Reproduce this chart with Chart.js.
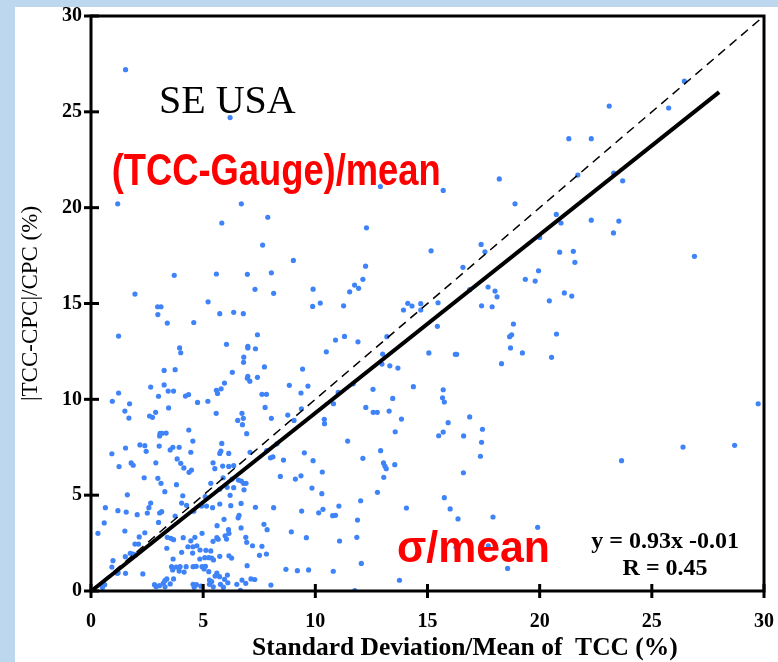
<!DOCTYPE html>
<html>
<head>
<meta charset="utf-8">
<script src="https://cdn.jsdelivr.net/npm/chart.js@4"></script>
<style>
body { margin: 0; background: #bdd7ee; width: 778px; height: 662px; overflow: hidden; }
#wrap { position: absolute; left: 15px; top: 7px; width: 763px; height: 655px; background: #fff; }
</style>
</head>
<body>
<div id="wrap"><canvas id="chart_scatter" width="763" height="655"></canvas></div>
<script>
// scatter points: sigma/mean of TCC (%) vs |TCC-CPC|/CPC (%)
const sigmaMean = [
  1.54, 6.2, 1.19, 6.7, 12.9, 15.7, 18.2, 18.9, 26.45, 23.1, 25.75, 21.3, 22.3, 21.7, 23.3, 23.7,
  5.83, 7.88, 7.65, 9.02, 3.71, 5.59, 6.97, 8.04, 1.96, 7.31, 8.14, 9.9, 9.88, 2.97, 3.12, 2.98,
  3.4, 4.58, 5.22, 5.74, 6.36, 6.79, 1.23, 7.42, 3.95, 4.0, 6.04, 6.99, 6.99, 7.33, 6.81, 6.8,
  7.73, 3.26, 3.75, 6.3, 9.43, 6.99, 6.97, 7.08, 7.42, 5.95, 2.66, 3.26, 3.01, 3.44, 3.68, 4.21,
  4.35, 4.75, 5.21, 5.59, 5.64, 5.8, 1.23, 0.95, 1.72, 7.62, 7.82, 8.84, 9.36, 9.67,
  12.28, 15.16, 17.39, 17.56, 16.58, 12.24, 12.12, 11.75, 11.93, 11.53, 10.22, 11.26, 16.88, 17.7,
  18.01, 18.1, 17.41, 17.88, 19.36, 19.8, 19.95, 14.12, 14.31, 14.7, 13.93, 14.7, 15.47, 15.44,
  18.83, 18.75, 18.66, 18.7, 19.23, 18.3, 10.9, 11.3, 11.9, 13.19, 10.49, 13.0, 12.97, 13.32,
  13.68, 15.06, 16.24, 16.3, 11.69, 11.02, 10.81, 12.57, 13.45, 14.37, 15.7, 15.67, 15.75,
  20.74, 20.95, 22.3, 23.53, 23.29, 20.0, 20.89, 21.5, 21.57, 26.9, 21.1, 21.43, 20.43, 20.75,
  20.53, 29.74,
  3.46, 1.51, 1.69, 2.61, 2.74, 2.88, 5.58, 6.73, 6.79, 6.54, 6.75, 7.76, 8.04, 8.77, 9.05, 9.38,
  4.36, 6.94, 3.08, 3.17, 3.35, 3.06, 2.18, 2.4, 1.54, 2.46, 3.04, 3.53, 3.65, 3.93, 4.45, 4.54,
  5.83, 5.74, 5.79, 6.14, 7.09, 7.83, 0.93, 1.79, 1.88, 1.25, 2.89, 3.84, 4.0, 4.14, 4.48, 4.37,
  5.44, 5.52, 5.87, 6.14, 6.36, 5.89, 6.29, 6.57, 6.7, 6.91, 6.8, 6.36, 6.07, 8.0, 8.11, 8.58,
  8.29, 9.51, 9.9, 8.44, 9.11, 9.36, 9.85, 2.37, 2.98, 3.12, 3.29, 3.81, 1.62, 4.09, 5.34, 5.09,
  5.74, 6.2, 6.82, 2.66, 2.58, 0.64, 1.2, 1.57, 2.06, 2.51, 3.06, 3.15, 4.04, 4.26, 4.58, 4.93,
  5.15, 5.42, 5.74, 6.23, 6.69, 7.33, 8.14, 9.39, 3.75, 0.59, 0.31, 1.51, 3.01, 2.4, 2.15, 1.96,
  2.12, 1.75, 1.87, 1.99, 1.53, 0.98, 0.93, 1.17, 1.21, 1.54, 0.61, 2.31, 2.83, 3.22, 3.29, 3.38,
  3.53, 3.68, 3.4, 3.56, 3.68, 3.38, 3.66, 3.59, 3.64, 3.8, 3.93, 3.97, 4.15, 4.24, 4.04, 4.11,
  4.45, 4.32, 4.54, 4.72, 4.53, 4.63, 4.95, 4.86, 5.12, 5.34, 4.85, 5.07, 5.25, 5.38, 5.46, 5.74,
  6.15, 6.27, 4.55, 4.69, 4.95, 5.1, 5.04, 5.25, 5.61, 5.53, 5.73, 6.08, 5.95, 6.1, 5.77, 5.28,
  5.38, 5.28, 4.55, 4.7, 5.44, 5.61, 5.67, 5.98, 6.04, 6.13, 5.62, 5.93, 6.56, 6.6, 6.15, 6.9,
  6.94, 6.69, 7.2, 6.96, 6.73, 7.13, 6.66, 7.62, 7.51, 7.82, 7.71, 7.85, 8.93, 9.6, 8.02, 8.69,
  9.2, 9.7,
  10.4, 10.41, 12.25, 12.58, 12.76, 13.29, 13.84, 13.56, 16.88, 15.92, 15.7, 15.5, 16.61, 17.45,
  17.41, 17.36, 11.44, 12.91, 12.12, 13.04, 13.1, 13.16, 13.54, 13.05, 10.31, 16.6, 10.29, 12.77,
  12.02, 11.05, 10.34, 10.15, 10.77, 10.9, 11.88, 14.06, 15.75, 16.01, 16.36, 17.92, 19.91, 11.85,
  11.08, 12.05, 10.8, 13.75, 18.57, 16.27, 17.71, 11.76,
  23.65, 26.39, 28.69,
  0.51, 2.9, 3.05, 3.3, 4.6, 4.9, 5.45, 5.9, 6.9, 7.3, 6.5
];
const diffPct = [
  27.2, 24.7, 20.2, 20.2, 21.1, 20.9, 21.5, 20.2, 26.6, 25.3, 25.2, 23.6, 23.6, 21.7, 21.8, 21.4,
  19.2, 19.5, 18.05, 17.25, 16.47, 16.54, 16.52, 16.6, 15.49, 15.74, 15.53, 15.75, 14.85, 14.83, 14.83, 14.42,
  13.98, 14.01, 15.09, 14.47, 14.54, 14.47, 13.3, 13.37, 12.68, 12.43, 12.87, 12.76, 12.68, 12.64, 12.2, 11.93,
  11.69, 11.51, 11.55, 11.41, 11.58, 11.2, 11.1, 10.95, 11.15, 10.85, 10.64, 10.75, 10.16, 10.43, 10.43, 10.17,
  10.25, 9.84, 9.9, 10.47, 10.31, 10.55, 10.33, 9.9, 9.77, 10.26, 10.26, 10.73, 10.33, 10.69,
  18.95, 17.75, 18.08, 17.7, 16.89, 16.95, 16.26, 15.96, 15.79, 15.61, 15.02, 14.88, 15.72, 15.86,
  15.65, 15.35, 14.88, 14.83, 16.26, 16.17, 16.71, 15.01, 14.87, 14.99, 14.66, 14.66, 15.04, 13.81,
  13.93, 13.37, 13.27, 12.68, 12.42, 11.86, 13.09, 13.28, 13.0, 13.27, 12.48, 12.36, 11.84, 11.75,
  11.63, 12.42, 12.35, 12.35, 10.81, 10.36, 9.77, 10.52, 10.05, 10.66, 10.5, 10.08, 9.86,
  19.65, 19.2, 19.35, 19.3, 18.68, 18.45, 17.68, 17.72, 17.15, 17.46, 15.55, 15.39, 15.14, 13.41,
  12.19, 9.77,
  9.55, 9.39, 9.02, 9.13, 9.06, 9.32, 9.27, 9.27, 9.01, 8.9, 8.68, 9.58, 9.01, 9.18, 8.9, 9.51,
  8.4, 8.21, 8.23, 8.23, 8.24, 8.09, 7.62, 7.58, 7.46, 7.29, 7.56, 7.36, 7.5, 7.5, 7.24, 7.82,
  7.7, 7.18, 7.3, 7.18, 7.24, 7.32, 7.16, 6.68, 6.56, 6.49, 6.69, 6.89, 6.66, 6.42, 6.31, 6.19,
  6.69, 6.38, 6.52, 6.5, 6.54, 5.91, 5.84, 5.79, 5.74, 5.62, 5.62, 5.39, 5.41, 6.95, 7.0, 6.83,
  7.68, 7.21, 6.8, 5.98, 5.84, 6.01, 5.37, 5.91, 5.88, 5.62, 5.18, 5.55, 5.02, 4.97, 5.62, 4.92,
  5.31, 4.99, 5.28, 4.59, 4.35, 4.35, 4.19, 4.12, 3.98, 4.07, 4.07, 4.14, 4.59, 4.47, 4.16, 4.43,
  4.43, 4.35, 4.54, 4.45, 4.57, 4.37, 4.35, 4.17, 3.91, 3.55, 3.01, 3.13, 3.58, 3.04, 2.82, 2.45,
  2.45, 1.97, 1.93, 1.88, 1.79, 1.58, 1.25, 0.92, 0.95, 0.92, 0.33, 0.89, 0.33, 0.4, 0.54, 0.63,
  0.37, 0.63, 2.8, 2.75, 2.68, 2.23, 1.67, 1.27, 1.1, 1.25, 1.04, 1.27, 0.99, 1.27, 2.02, 2.78,
  2.62, 2.31, 2.31, 2.36, 1.98, 2.8, 3.01, 2.14, 2.12, 2.09, 1.67, 1.74, 1.74, 1.72, 1.62, 1.81,
  1.84, 1.72, 1.27, 1.29, 1.27, 1.29, 1.15, 1.01, 0.94, 0.78, 0.75, 0.83, 0.61, 0.43, 0.35, 0.57,
  0.49, 0.35, 0.35, 0.33, 2.59, 2.78, 2.7, 2.88, 2.71, 3.2, 3.41, 3.74, 3.82, 3.95, 3.01, 2.8,
  2.54, 3.29, 2.36, 1.32, 0.57, 0.63, 0.04, 2.33, 1.86, 1.93, 3.48, 3.2, 3.09, 2.78, 0.31, 1.13,
  1.06, 1.1,
  8.96, 8.73, 9.58, 9.32, 9.32, 9.39, 8.97, 8.31, 9.08, 8.78, 8.29, 8.1, 8.09, 8.44,
  7.76, 7.03, 7.82, 7.32, 6.92, 6.68, 6.52, 6.38, 6.59, 5.93, 6.21, 6.17, 5.08, 5.15,
  4.71, 4.43, 4.26, 4.08, 3.93, 3.95, 3.7, 4.33, 4.87, 4.28, 3.76, 3.86, 3.32, 2.8,
  2.61, 1.44, 1.03, 0.56, 1.18, 2.28, 2.36, 0.02,
  6.8, 7.51, 7.6,
  0.18, 0.22, 0.28, 0.22, 0.2, 0.25, 0.22, 0.2, 0.4, 0.6, 0.35
];

// regression line and 1:1 line
const fitX = [0, 28];
const fitY = [-0.01, 26.03];
const oneToOneX = [0, 30];
const oneToOneY = [0, 30];

const axisTicks = [0, 5, 10, 15, 20, 25, 30];

function toPoints(xs, ys) {
    return xs.map((x, i) => ({ x: x, y: ys[i] }));
}

function drawFitted(ctx, txt, x, y, w) {
    let m = ctx.measureText(txt).width;
    ctx.save();
    ctx.translate(x, y);
    ctx.scale(w / m, 1);
    ctx.fillText(txt, 0, 0);
    ctx.restore();
}

// box, crossing tick marks and the text notes
const decorPlugin = {
    id: 'decor',
    afterDraw(chart) {
        const ctx = chart.ctx;
        const a = chart.chartArea;
        const sx = chart.scales.x, sy = chart.scales.y;
        ctx.save();
        ctx.strokeStyle = '#000';
        ctx.lineWidth = 3;
        ctx.strokeRect(a.left, a.top, a.right - a.left, a.bottom - a.top);
        axisTicks.forEach(v => {
            let py = sy.getPixelForValue(v);
            ctx.beginPath(); ctx.moveTo(a.left - 7, py); ctx.lineTo(a.left + 8, py); ctx.stroke();
            let px = sx.getPixelForValue(v);
            ctx.beginPath(); ctx.moveTo(px, a.bottom - 7); ctx.lineTo(px, a.bottom + 7); ctx.stroke();
        });

        ctx.fillStyle = '#000';
        ctx.textBaseline = 'alphabetic';
        ctx.textAlign = 'left';
        ctx.font = '40px "Liberation Serif"';
        ctx.fillText('SE USA', sx.getPixelForValue(3.03), sy.getPixelForValue(24.93));

        ctx.fillStyle = '#ff0000';
        ctx.font = 'bold 44px "Liberation Sans"';
        drawFitted(ctx, '(TCC-Gauge)/mean', sx.getPixelForValue(0.92), sy.getPixelForValue(21.18),
            sx.getPixelForValue(15.59) - sx.getPixelForValue(0.92));
        drawFitted(ctx, 'σ/mean', sx.getPixelForValue(13.64), sy.getPixelForValue(1.51),
            sx.getPixelForValue(20.46) - sx.getPixelForValue(13.64));

        ctx.fillStyle = '#000';
        ctx.textAlign = 'center';
        ctx.font = 'bold 24px "Liberation Serif"';
        ctx.fillText('y = 0.93x -0.01', sx.getPixelForValue(25.59), sy.getPixelForValue(2.24));
        ctx.fillText('R = 0.45', sx.getPixelForValue(25.59), sy.getPixelForValue(0.83));

        ctx.font = 'bold 25.5px "Liberation Serif"';
        ctx.textBaseline = 'middle';
        ctx.fillText('Standard Deviation/Mean of  TCC (%)', sx.getPixelForValue(16.67), a.bottom + 57);
        ctx.restore();
    }
};

let chartScatter = new Chart(
    document.getElementById('chart_scatter'),
    {
        type: 'scatter',
        data: {
            datasets: [
                {
                    label: 'Fit',
                    data: toPoints(fitX, fitY),
                    showLine: true,
                    borderColor: '#000',
                    borderWidth: 4,
                    pointRadius: 0,
                },
                {
                    label: '1:1',
                    data: toPoints(oneToOneX, oneToOneY),
                    showLine: true,
                    borderColor: '#000',
                    borderWidth: 1.5,
                    borderDash: [9, 6],
                    pointRadius: 0,
                },
                {
                    label: 'Stations',
                    data: toPoints(sigmaMean, diffPct),
                    backgroundColor: '#3f83f8',
                    borderWidth: 0,
                    pointRadius: 2.6,
                },
            ],
        },
        options: {
            responsive: false,
            animation: false,
            devicePixelRatio: 1,
            layout: { padding: { top: 9, right: 14, left: 0, bottom: 0 } },
            scales: {
                x: {
                    type: 'linear',
                    min: 0,
                    max: 30,
                    grid: { display: false },
                    border: { display: false },
                    ticks: {
                        stepSize: 5,
                        padding: 11,
                        color: '#000',
                        font: { family: 'Liberation Serif', size: 20, weight: 'bold' },
                    },
                    afterFit: scale => { scale.height = 71; scale.paddingLeft = 0; scale.paddingRight = 0; },
                },
                y: {
                    min: 0,
                    max: 30,
                    grid: { display: false },
                    border: { display: false },
                    ticks: {
                        stepSize: 5,
                        padding: 1,
                        color: '#000',
                        font: { family: 'Liberation Serif', size: 20, weight: 'bold' },
                    },
                    title: {
                        display: true,
                        text: '|TCC-CPC|/CPC (%)',
                        color: '#000',
                        padding: { top: 2, bottom: 0 },
                        font: { family: 'Liberation Serif', size: 23 },
                    },
                    afterFit: scale => { scale.width = 76; scale.paddingTop = 0; scale.paddingBottom = 0; },
                },
            },
            plugins: {
                legend: { display: false },
                tooltip: { enabled: false },
            },
        },
        plugins: [decorPlugin],
    }
);
</script>
</body>
</html>
